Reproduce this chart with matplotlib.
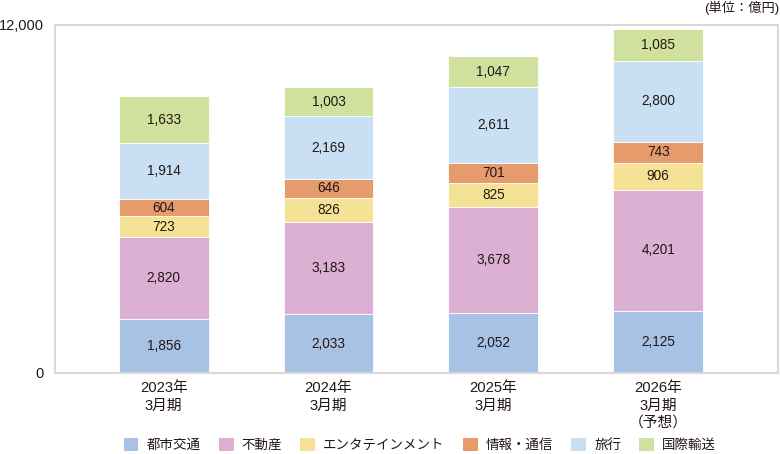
import matplotlib
matplotlib.use("Agg")
import matplotlib.pyplot as plt
import numpy as np
from matplotlib.patches import Patch

plt.rcParams['font.family'] = ['Liberation Sans', 'Noto Sans CJK JP', 'DejaVu Sans']

categories = ["2023年\n3月期", "2024年\n3月期", "2025年\n3月期", "2026年\n3月期\n（予想）"]
segments = ["都市交通", "不動産", "エンタテインメント", "情報・通信", "旅行", "国際輸送"]
toshi = [1856, 2033, 2052, 2125]
fudosan = [2820, 3183, 3678, 4201]
entame = [723, 826, 825, 906]
joho = [604, 646, 701, 743]
ryoko = [1914, 2169, 2611, 2800]
kokusai = [1633, 1003, 1047, 1085]
series = [toshi, fudosan, entame, joho, ryoko, kokusai]
colors = ["#a8c2e6", "#dcb0d3", "#f6e297", "#e69b6c", "#c9dff4", "#d0e09d"]
yticks = [0, 12000]

txt = "#231815"
fig = plt.figure(figsize=(7.8, 4.54), dpi=100)
ax = fig.add_axes([55/780, 1-373/454, 723/780, 348/454])

x = np.arange(len(categories))
bottom = np.zeros(len(categories))
for vals, col, name in zip(series, colors, segments):
    v = np.array(vals, dtype=float)
    ax.bar(x, v, bottom=bottom, width=0.545, color=col, edgecolor="white", linewidth=0.6, label=name)
    for xi, b, h in zip(x, bottom, v):
        ax.text(xi, b + h/2, f"{int(h):,}", ha="center", va="center", fontsize=9.8, color=txt)
    bottom += v

ax.set_xlim(-0.66, 3.727)
ax.set_ylim(0, 12000)
ax.set_yticks(yticks)
ax.set_yticklabels([f"{t:,}" for t in yticks], fontsize=10.5, color=txt)
ax.set_xticks(x)
ax.set_xticklabels(categories, fontsize=10.6, color=txt, linespacing=1.35)
ax.tick_params(axis="both", length=0, pad=8)
ax.tick_params(axis="x", pad=6)
for s in ax.spines.values():
    s.set_color("#d9d9d9")
    s.set_linewidth(1.5)

fig.text(779/780, 1-8/454, "(単位：億円)", ha="right", va="center", fontsize=9.5, color=txt)

handles = [Patch(facecolor=c, edgecolor="none") for c in colors]
fig.legend(handles, segments, loc="center", bbox_to_anchor=(420/780, 1-445/454), ncol=6,
           frameon=False, fontsize=9.7, handlelength=1.1, handleheight=1.1,
           handletextpad=0.6, columnspacing=1.35, labelcolor=txt)

fig.savefig("out.png", dpi=100)
